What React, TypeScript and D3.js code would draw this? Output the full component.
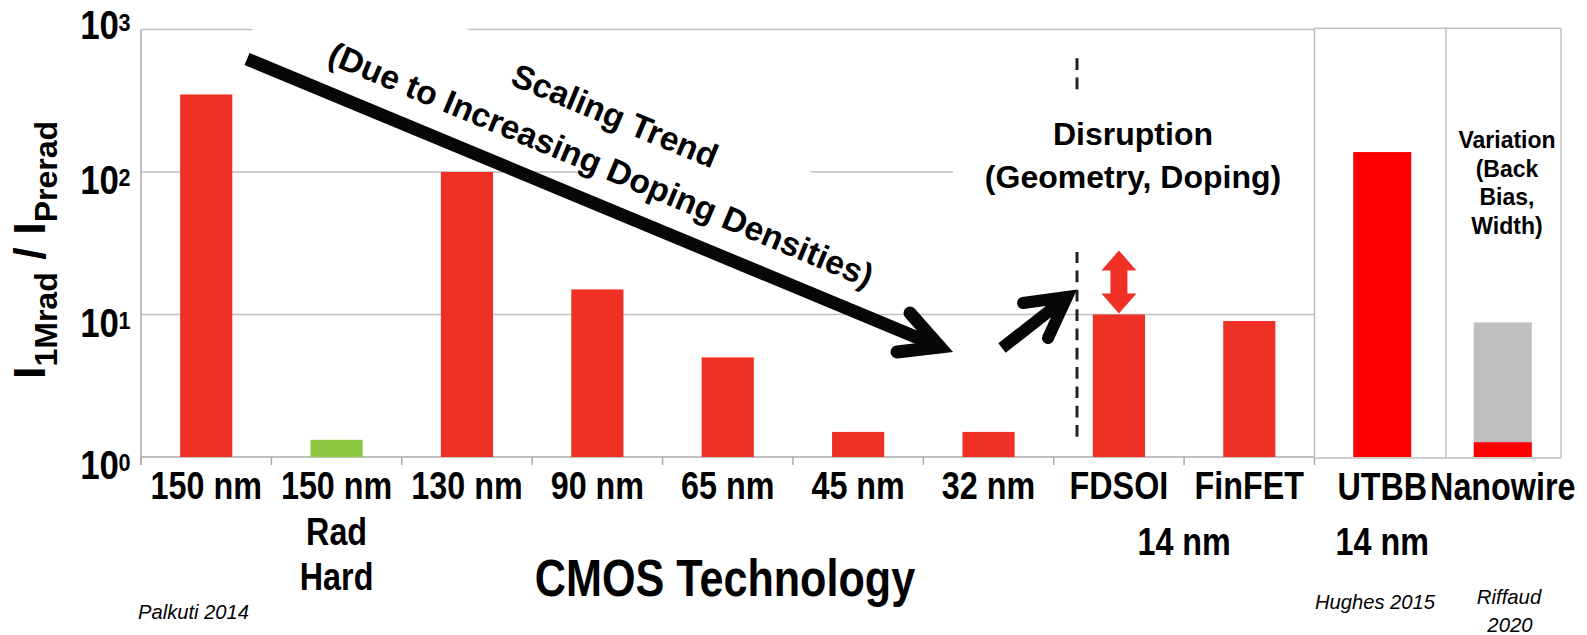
import React from "react";
import * as d3 from "d3";

// ---------- data ----------
const categories = ["150 nm", "150 nm Rad Hard", "130 nm", "90 nm", "65 nm", "45 nm", "32 nm", "FDSOI", "FinFET"];
const categoryLabelLines = [["150 nm"], ["150 nm", "Rad", "Hard"], ["130 nm"], ["90 nm"], ["65 nm"], ["45 nm"], ["32 nm"], ["FDSOI"], ["FinFET"]];
const ratioValues = [350, 1.32, 100, 15, 5.0, 1.5, 1.5, 10, 9.0];
const radHardCategory = "150 nm Rad Hard";

const rightCategories = ["UTBB", "Nanowire"];
const rightValues = [138, 1.27];
const nanowireVariationTop = 8.8;

const yTickValues = [1, 10, 100, 1000];
const yTickExponents = ["0", "1", "2", "3"];

// ---------- layout ----------
const W = 1587;
const H = 635;
const FONT = "'Liberation Sans', Arial, Helvetica, sans-serif";
const RED = "#ee3124";
const GREEN = "#8dc63f";
const GRID = "#bfbfbf";
const AXIS = "#ababab";

const plotLeft = 141;
const plotRight = 1314.5;
const plotTop = 29.5;
const plotBottom = 457;
const panelRight = 1561;
const panelDivider = 1446;

const x = d3.scaleBand<string>().domain(categories).range([plotLeft, plotRight]).padding(0);
const xr = d3.scaleBand<string>().domain(rightCategories).range([1322, 1563]).padding(0);
const y = d3.scaleLog().domain([1, 1000]).range([plotBottom, plotTop]);

function NText(props: any) {
  const { x: tx, y: ty, sx = 0.85, size, anchor = "middle", weight = "bold", italic = false, children } = props;
  return (
    <text
      transform={`translate(${tx},${ty}) scale(${sx},1)`}
      fontSize={size}
      fontFamily={FONT}
      fontWeight={weight}
      fontStyle={italic ? "italic" : "normal"}
      textAnchor={anchor}
      fill="#000"
    >
      {children}
    </text>
  );
}

export default function App() {
  const bw = x.bandwidth();
  const barW = bw * 0.4;
  const rbw = xr.bandwidth();
  const rBarW = 58;

  // big trend arrow
  const tail: [number, number] = [247, 59];
  const tip: [number, number] = [940, 347];
  const headA: [number, number] = [910, 313];
  const headB: [number, number] = [897, 352];

  const sTail: [number, number] = [1002, 348];
  const sTip: [number, number] = [1067, 297];
  const sHeadA: [number, number] = [1023, 303];
  const sHeadB: [number, number] = [1048, 338];

  const fdsoiC = (x("FDSOI") as number) + bw / 2;
  const dArrowBottom = y(10) - 1;
  const dArrowTop = dArrowBottom - 63;
  const hw = 17.5;
  const sw = 8.5;
  const hh = 20;
  const redArrow = [
    [fdsoiC, dArrowTop],
    [fdsoiC + hw, dArrowTop + hh],
    [fdsoiC + sw, dArrowTop + hh],
    [fdsoiC + sw, dArrowBottom - hh],
    [fdsoiC + hw, dArrowBottom - hh],
    [fdsoiC, dArrowBottom],
    [fdsoiC - hw, dArrowBottom - hh],
    [fdsoiC - sw, dArrowBottom - hh],
    [fdsoiC - sw, dArrowTop + hh],
    [fdsoiC - hw, dArrowTop + hh],
  ];

  const line = d3.line();

  return (
    <svg width={W} height={H} style={{ position: "absolute", left: 0, top: 0, background: "#fff" }}>
      <rect x={0} y={0} width={W} height={H} fill="#fff" />

      {/* gridlines */}
      {yTickValues.slice(1).map((v) => (
        <line key={v} x1={plotLeft} x2={plotRight} y1={y(v)} y2={y(v)} stroke={GRID} strokeWidth={1.5} />
      ))}

      {/* dashed disruption line */}
      <line x1={1077} x2={1077} y1={58.3} y2={444} stroke="#222" strokeWidth={3} strokeDasharray="11.7,7.6" />

      {/* white text boxes hiding gridlines */}
      <g transform="translate(599,164.5) rotate(22.6)">
        <rect x={-372} y={-74.5} width={672} height={89.5} fill="#fff" />
      </g>
      <rect x={953} y={92} width={plotRight - 953} height={160} fill="#fff" />

      {/* axes */}
      <line x1={plotLeft} x2={plotLeft} y1={plotTop} y2={plotBottom + 8} stroke={AXIS} strokeWidth={1.5} />
      <line x1={plotLeft} x2={plotRight} y1={plotBottom} y2={plotBottom} stroke={AXIS} strokeWidth={1.5} />
      {categories.map((c) => (
        <line key={c} x1={x(c) as number} x2={x(c) as number} y1={plotBottom} y2={plotBottom + 8} stroke={AXIS} strokeWidth={1.5} />
      ))}
      <line x1={plotRight} x2={plotRight} y1={plotBottom} y2={plotBottom + 8} stroke={AXIS} strokeWidth={1.5} />

      {/* right panel frame */}
      <line x1={plotRight} x2={plotRight} y1={28.3} y2={plotBottom + 1} stroke={GRID} strokeWidth={1.5} />
      <line x1={panelDivider} x2={panelDivider} y1={28.3} y2={plotBottom + 1} stroke={GRID} strokeWidth={1.5} />
      <line x1={panelRight} x2={panelRight} y1={28.3} y2={plotBottom + 1} stroke={GRID} strokeWidth={1.5} />
      <line x1={plotRight} x2={panelRight} y1={28.3} y2={28.3} stroke={GRID} strokeWidth={1.5} />
      <line x1={plotRight} x2={panelRight} y1={plotBottom + 1} y2={plotBottom + 1} stroke={GRID} strokeWidth={1.5} />

      {/* main bars */}
      {categories.map((c, i) => (
        <rect
          key={c}
          x={(x(c) as number) + (bw - barW) / 2}
          y={y(ratioValues[i])}
          width={barW}
          height={plotBottom - y(ratioValues[i])}
          fill={c === radHardCategory ? GREEN : RED}
        />
      ))}

      {/* right panel bars */}
      <rect
        x={(xr("Nanowire") as number) + (rbw - rBarW) / 2}
        y={y(nanowireVariationTop)}
        width={rBarW}
        height={plotBottom - y(nanowireVariationTop)}
        fill="#bfbfbf"
      />
      {rightCategories.map((c, i) => (
        <rect
          key={c}
          x={(xr(c) as number) + (rbw - rBarW) / 2}
          y={y(rightValues[i])}
          width={rBarW}
          height={plotBottom - y(rightValues[i])}
          fill="#ff0000"
        />
      ))}

      {/* arrows */}
      <path d={line([tail, [tip[0] - 8, tip[1] - 3.3]]) as string} stroke="#070707" strokeWidth={13} fill="none" strokeLinecap="butt" />
      <path d={line([headA, tip, headB]) as string} stroke="#070707" strokeWidth={13} fill="none" strokeLinecap="round" strokeLinejoin="miter" />
      <path d={line([sTail, [sTip[0] - 5, sTip[1] + 4]]) as string} stroke="#070707" strokeWidth={12} fill="none" strokeLinecap="butt" />
      <path d={line([sHeadA, sTip, sHeadB]) as string} stroke="#070707" strokeWidth={12} fill="none" strokeLinecap="round" strokeLinejoin="miter" />
      <path d={(line(redArrow as [number, number][]) as string) + "Z"} fill={RED} />

      {/* y tick labels */}
      {yTickValues.map((v, i) => {
        const base = y(v) + (v === 1000 ? 9 : 22);
        return (
          <g key={v}>
            <NText x={119} y={base} size={41} anchor="end">10</NText>
            <NText x={118.5} y={base - 8} size={24} sx={0.9} anchor="start">{yTickExponents[i]}</NText>
          </g>
        );
      })}

      {/* y axis title */}
      <text transform="translate(45,250) rotate(-90)" fontFamily={FONT} fontWeight="bold" fontSize={45} textAnchor="middle" fill="#000">
        I<tspan fontSize={32} dy={12}>1Mrad</tspan>
        <tspan fontSize={45} dy={-12}> / I</tspan>
        <tspan fontSize={32} dy={12}>Prerad</tspan>
      </text>

      {/* category labels */}
      {categories.map((c, i) => (
        <g key={c}>
          {categoryLabelLines[i].map((t, j) => (
            <NText key={j} x={(x(c) as number) + bw / 2} y={499 + j * 45.5} size={38}>{t}</NText>
          ))}
        </g>
      ))}
      <NText x={(x("FinFET") as number)} y={555} size={38}>14 nm</NText>
      {rightCategories.map((c) => (
        <NText key={c} x={(xr(c) as number) + rbw / 2} y={500} size={38}>{c}</NText>
      ))}
      <NText x={(xr("UTBB") as number) + rbw / 2} y={555} size={38}>14 nm</NText>

      <NText x={725} y={596} size={52} sx={0.83}>CMOS Technology</NText>

      {/* sources */}
      <NText x={138} y={619} size={21} sx={0.96} weight="normal" italic anchor="start">Palkuti 2014</NText>
      <NText x={1315} y={609} size={21} sx={0.96} weight="normal" italic anchor="start">Hughes 2015</NText>
      <NText x={1509} y={604} size={21} sx={0.97} weight="normal" italic>Riffaud</NText>
      <NText x={1510} y={632} size={21} sx={0.97} weight="normal" italic>2020</NText>

      {/* annotations */}
      <g transform="translate(599,164.5) rotate(22.6)" fontFamily={FONT} fontWeight="bold" fontSize={33.5} textAnchor="middle" fill="#000">
        <text x={-4} y={-39.5}>Scaling Trend</text>
        <text x={2} y={11}>(Due to Increasing Doping Densities)</text>
      </g>
      <g fontFamily={FONT} fontWeight="bold" fontSize={32} textAnchor="middle" fill="#000">
        <text x={1133} y={145}>Disruption</text>
        <text x={1133} y={188}>(Geometry, Doping)</text>
      </g>
      <g fontFamily={FONT} fontWeight="bold" fontSize={23} textAnchor="middle" fill="#000">
        <text x={1507} y={148}>Variation</text>
        <text x={1507} y={177}>(Back</text>
        <text x={1507} y={205}>Bias,</text>
        <text x={1507} y={234}>Width)</text>
      </g>
    </svg>
  );
}
